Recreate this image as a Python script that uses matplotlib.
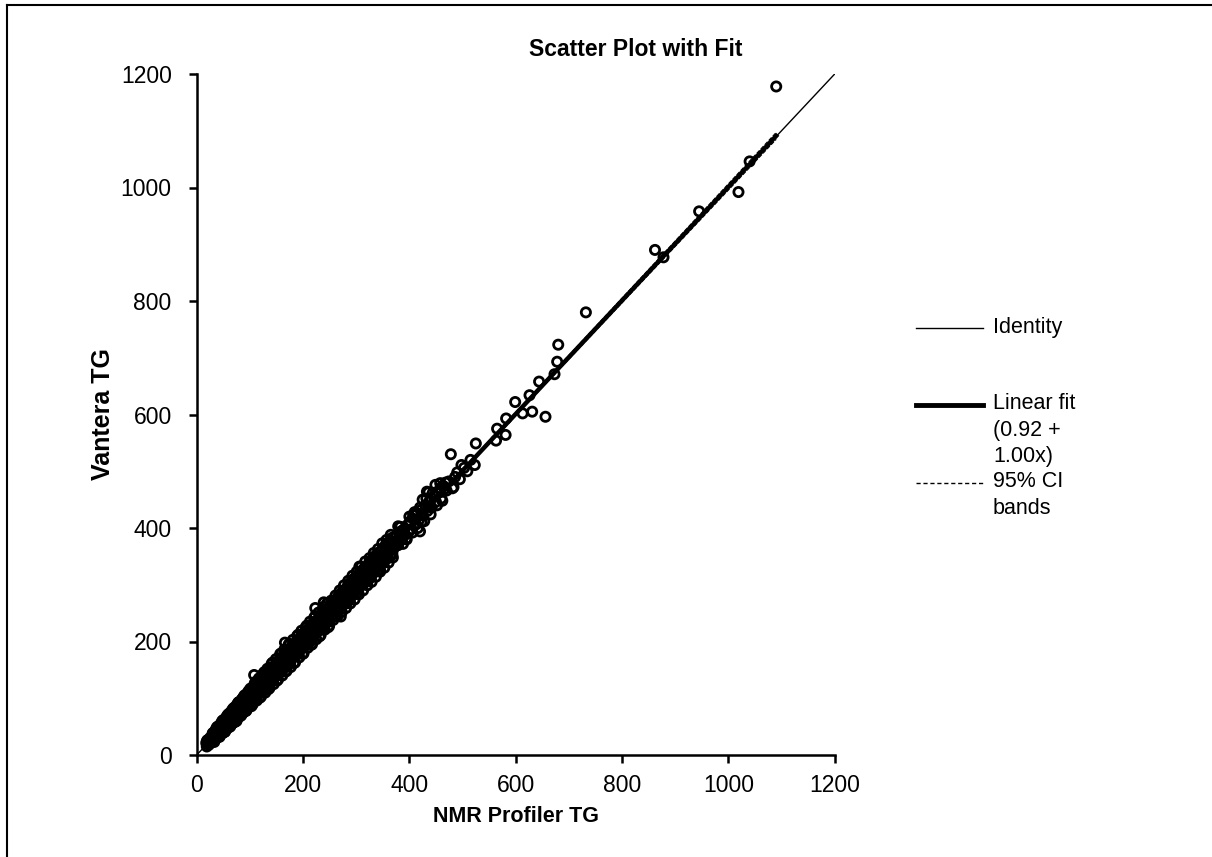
import numpy as np
import matplotlib
matplotlib.use('Agg')
import matplotlib.pyplot as plt
from matplotlib.lines import Line2D

plt.rcParams['font.family'] = ['Liberation Sans', 'DejaVu Sans']

# low end of the cloud (x < 100)
low_x = [18, 19, 20, 21, 22, 23, 24, 25, 26, 27,
         28, 29, 30, 31, 32, 33, 34, 35, 36, 37,
         38, 39, 40, 41, 42, 43, 44, 45, 46, 47,
         48, 49, 50, 51, 52, 53, 54, 55, 56, 57,
         58, 59, 60, 61, 62, 63, 64, 65, 66, 67,
         68, 69, 70, 71, 72, 73, 74, 75, 76, 77,
         78, 79, 80, 81, 82, 83, 84, 85, 86, 87,
         88, 89, 90, 91, 92, 93, 94, 95, 96, 97, 98, 99,
         31, 34, 36, 39, 41, 44, 46, 49, 51, 54, 56, 59, 61, 64,
         66, 69, 71, 74, 76, 79, 81, 84, 86, 89, 91, 94, 96, 99,
         33, 38, 43, 48, 53, 58, 63, 68, 73, 78, 83, 88, 93, 98,
         19, 20, 22, 24, 25, 27, 29, 30]
low_y = [21, 15, 26, 19, 26, 18, 25, 30, 23, 29,
         31, 23, 38, 28, 37, 25, 35, 42, 31, 41,
         36, 48, 33, 45, 41, 49, 35, 47, 54, 43,
         53, 39, 61, 48, 59, 41, 55, 65, 48, 61,
         55, 71, 51, 67, 61, 72, 53, 68, 77, 61,
         74, 57, 83, 67, 80, 59, 76, 87, 67, 82,
         74, 93, 70, 88, 81, 93, 71, 88, 99, 80,
         95, 76, 105, 86, 101, 78, 96, 108, 86, 103, 95, 110,
         39, 27, 45, 31, 51, 35, 56, 39, 62, 44, 67, 48, 73, 53,
         78, 57, 83, 62, 89, 67, 94, 71, 99, 76, 105, 81, 110, 85,
         23, 49, 32, 60, 41, 70, 50, 81, 60, 92, 69, 102, 78, 113,
         24, 21, 23, 22, 26, 25, 31, 28]

# middle of the cloud (100 - 250)
mid_x = [100, 102, 104, 106, 108, 110, 112, 114, 116, 118,
         120, 122, 124, 126, 128, 130, 132, 134, 136, 138,
         140, 142, 144, 146, 148, 150, 152, 154, 156, 158,
         160, 162, 164, 166, 168, 170, 172, 174, 176, 178,
         180, 182, 184, 186, 188, 190, 192, 194, 196, 198,
         200, 202, 204, 206, 208, 210, 212, 214, 216, 218,
         220, 222, 224, 226, 228, 230, 232, 234, 236, 238,
         240, 242, 244, 246, 248, 250,
         101, 105, 109, 113, 117, 121, 125, 129, 133, 137, 141, 145, 149,
         153, 157, 161, 165, 169, 173, 177, 181, 185, 189, 193, 197, 201,
         205, 209, 213, 217, 221, 225, 229, 233, 237, 241, 245, 249,
         103, 107, 111, 115, 119, 123, 127, 131, 135, 139, 143, 147, 151,
         155, 159, 163, 167, 171, 175, 179, 183, 187, 191, 195, 199, 203,
         207, 211, 215, 219, 223, 227, 231, 235, 239, 243, 247,
         104, 108, 112, 116, 120, 124, 128, 132, 136, 140, 144, 148, 152,
         156, 160, 164, 168, 172, 176, 180, 184, 188, 192, 196, 200, 204,
         208, 212, 216, 220, 224, 228, 232, 236, 240, 244, 248,
         103, 111, 119, 127, 135, 143, 151, 159, 167, 175, 183, 191, 199,
         207, 215, 223, 231, 239, 247]
mid_y = [106, 92, 117, 102, 117, 96, 114, 125, 108, 122,
         126, 112, 137, 122, 137, 116, 134, 145, 128, 142,
         137, 154, 135, 153, 147, 160, 140, 157, 169, 152,
         166, 152, 177, 162, 177, 156, 174, 185, 168, 182,
         177, 194, 175, 193, 187, 200, 180, 197, 209, 192,
         206, 192, 217, 202, 217, 196, 214, 225, 208, 222,
         217, 234, 215, 233, 227, 240, 220, 237, 249, 232,
         246, 232, 257, 242, 257, 236,
         117, 89, 126, 96, 135, 103, 143, 110, 152, 118, 161, 125, 169,
         133, 178, 140, 186, 148, 195, 155, 203, 163, 210, 172, 219, 179,
         225, 189, 235, 195, 242, 204, 251, 211, 257, 221, 267, 227,
         104, 102, 116, 113, 122, 117, 127, 137, 132, 141, 144, 142, 156,
         153, 162, 157, 167, 177, 172, 181, 184, 182, 196, 193, 202, 197,
         207, 217, 212, 221, 224, 222, 236, 233, 242, 237, 247,
         95, 118, 102, 127, 109, 136, 116, 145, 123, 154, 135, 158, 142,
         167, 149, 176, 156, 185, 163, 194, 175, 198, 182, 207, 189, 216,
         196, 225, 203, 234, 215, 238, 222, 247, 229, 256, 236,
         86, 129, 101, 146, 116, 163, 131, 179, 147, 196, 162, 212, 178,
         228, 194, 245, 209, 261, 225]

# upper part of the cloud (250 - 370)
up_x = [252, 254, 256, 258, 260, 262, 264, 266, 268, 270,
        272, 274, 276, 278, 280, 282, 284, 286, 288, 290,
        292, 294, 296, 298, 300, 302, 304, 306, 308, 310,
        312, 314, 316, 318, 320, 322, 324, 326, 328, 330,
        332, 334, 336, 338, 340, 342, 344, 346, 348, 350,
        352, 354, 356, 358, 360, 362, 364, 366, 368, 370,
        253, 257, 261, 265, 269, 273, 277, 281, 285, 289, 293, 297, 301,
        305, 309, 313, 317, 321, 325, 329, 333, 337, 341, 345, 349, 353,
        357, 361, 365, 369,
        255, 259, 263, 267, 271, 275, 279, 283, 287, 291, 295, 299, 303,
        307, 311, 315, 319, 323, 327, 331, 335, 339, 343, 347, 351, 355,
        359, 363, 367,
        256, 260, 264, 268, 272, 276, 280, 284, 288, 292, 296, 300, 304,
        308, 312, 316, 320, 324, 328, 332, 336, 340, 344, 348, 352, 356,
        360, 364, 368]
up_y = [259, 242, 271, 253, 270, 246, 266, 279, 259, 275,
        268, 288, 266, 286, 279, 293, 270, 290, 303, 283,
        299, 282, 311, 293, 310, 286, 306, 319, 299, 315,
        308, 328, 306, 326, 319, 333, 310, 330, 343, 323,
        339, 322, 351, 333, 350, 326, 346, 359, 339, 355,
        348, 368, 346, 366, 359, 373, 350, 370, 383, 363,
        272, 238, 281, 245, 290, 252, 299, 259, 307, 267, 316, 274, 323,
        283, 332, 290, 341, 299, 347, 305, 356, 314, 363, 323, 373, 330,
        379, 339, 388, 348,
        257, 255, 267, 266, 274, 270, 279, 288, 284, 292, 297, 295, 307,
        306, 314, 310, 319, 328, 324, 332, 337, 335, 347, 346, 354, 350,
        359, 368, 364,
        246, 271, 253, 280, 260, 289, 267, 298, 274, 304, 286, 311, 293,
        320, 300, 329, 307, 338, 314, 344, 326, 351, 333, 360, 340, 369,
        347, 378, 354]

# loose circles between 370 and 530
top_x = [373, 376, 378, 381, 384, 386, 390, 392, 396, 398, 402, 404, 408, 412, 415,
         418, 422, 426, 430, 434, 438, 442, 446, 450, 455, 460, 464, 470, 474, 486,
         490, 503, 515, 383, 388, 400, 406, 410, 416, 420, 428, 432, 440, 444, 452,
         458, 462, 468]
top_y = [372, 386, 370, 382, 394, 380, 398, 388, 405, 392, 412, 398, 416, 406, 426,
         414, 432, 422, 440, 430, 448, 436, 456, 446, 462, 452, 474, 466, 482, 490,
         498, 506, 520, 402, 372, 420, 392, 428, 400, 436, 412, 452, 424, 462, 440,
         470, 448, 480]

# circles standing out at the edges of the cloud
edge_x = [478, 523, 509, 498, 495, 481, 466, 449, 433, 425, 439, 407, 423, 420, 394, 379,
          375, 483, 458, 436, 395, 379, 345, 306, 271, 239, 223, 166, 108, 75]
edge_y = [530, 511, 500, 511, 486, 470, 469, 476, 464, 450, 437, 423, 411, 394, 381, 403,
          372, 472, 479, 463, 380, 370, 326, 332, 244, 269, 259, 198, 141, 60]

# sparse high values
high_x = [1090, 1040, 1019, 945, 862, 878, 732, 680, 678, 673, 644, 599, 626, 613, 631,
          656, 582, 565, 581, 525, 563]
high_y = [1178, 1046, 992, 958, 890, 877, 780, 723, 693, 671, 658, 622, 634, 602, 605,
          596, 593, 575, 564, 549, 554]

fit_intercept = 0.92
fit_slope = 1.00

ticks = [0, 200, 400, 600, 800, 1000, 1200]

nmr = np.array(low_x + mid_x + up_x + top_x + edge_x + high_x, dtype=float)
vantera = np.array(low_y + mid_y + up_y + top_y + edge_y + high_y, dtype=float)

W, H = 1212, 857
fig = plt.figure(figsize=(W / 100, H / 100), dpi=100)
ax = fig.add_axes([196.7 / W, 1 - 755 / H, 638 / W, 681 / H])

ax.scatter(nmr, vantera, s=44, facecolors='none', edgecolors='black', linewidths=2.0, zorder=3)

# identity
ax.axline((0, 0), slope=1, color='black', lw=1.0, zorder=2)

# fit and 95% CI
xs = np.linspace(nmr.min(), nmr.max(), 200)
fit = fit_intercept + fit_slope * xs
resid = vantera - (fit_intercept + fit_slope * nmr)
n = len(nmr)
s = np.sqrt(np.sum(resid ** 2) / (n - 2))
sxx = np.sum((nmr - nmr.mean()) ** 2)
half = 1.96 * s * np.sqrt(1 / n + (xs - nmr.mean()) ** 2 / sxx)
ax.plot(xs, fit, color='black', lw=3.2, zorder=4)
ax.plot(xs, fit - half, color='black', lw=0.8, ls='--', zorder=4)
ax.plot(xs, fit + half, color='black', lw=0.8, ls='--', zorder=4)

ax.set_xlim(0, 1200)
ax.set_ylim(0, 1200)
ax.set_xticks(ticks)
ax.set_yticks(ticks)
for sp in ['top', 'right']:
    ax.spines[sp].set_visible(False)
for sp in ['left', 'bottom']:
    ax.spines[sp].set_linewidth(1.8)
ax.tick_params(direction='out', length=6, width=1.8, labelsize=16.5)
ax.tick_params(axis='y', pad=12)
ax.tick_params(axis='x', pad=8)

ax.set_xlabel('NMR Profiler TG', fontsize=15.5, fontweight='bold', va='center')
ax.xaxis.set_label_coords(0.5, (755 - 816) / 681)
ax.set_ylabel('Vantera TG', fontsize=18, fontweight='bold', va='center')
ax.yaxis.set_label_coords((103 - 196.7) / 638, 0.5)


def px(x, y):
    return x / W, 1 - y / H


fig.text(*px(636, 50), 'Scatter Plot with Fit', fontsize=16.5, fontweight='bold',
         ha='center', va='center')

# legend drawn by hand, to the right of the axes
leg_x0, leg_x1, leg_tx = 916, 983, 993
fig.add_artist(Line2D([leg_x0 / W, leg_x1 / W], [1 - 328 / H] * 2, color='black', lw=1.0))
fig.add_artist(Line2D([leg_x0 / W, leg_x1 / W], [1 - 405 / H] * 2, color='black', lw=3.5))
fig.add_artist(Line2D([leg_x0 / W, leg_x1 / W], [1 - 483 / H] * 2, color='black', lw=1.0,
                      ls=(0, (3, 2))))
fig.text(*px(leg_tx, 328), 'Identity', fontsize=15.5, va='center')
fig.text(*px(leg_tx, 393), 'Linear fit\n(0.92 +\n1.00x)', fontsize=15.5, va='top',
         linespacing=1.35)
fig.text(*px(leg_tx, 471), '95% CI\nbands', fontsize=15.5, va='top', linespacing=1.35)

# page frame
fig.add_artist(Line2D([7 / W, 7 / W], [0, 1 - 5 / H], color='black', lw=1.5))
fig.add_artist(Line2D([7 / W, 1], [1 - 5 / H] * 2, color='black', lw=1.5))

fig.savefig('out.png', dpi=100)
